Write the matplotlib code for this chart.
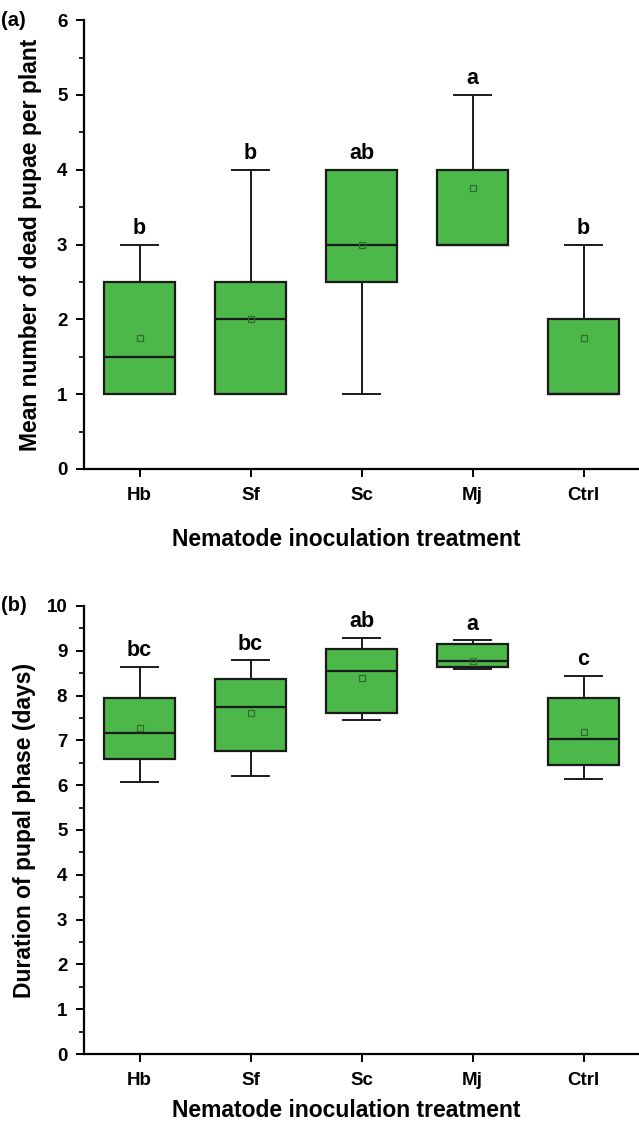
import matplotlib.pyplot as plt
from matplotlib.ticker import MultipleLocator

plt.rcParams['font.family'] = ['Liberation Sans', 'DejaVu Sans']
plt.rcParams['font.weight'] = 'bold'

#########################
# données
#########################
categories = ["Hb", "Sf", "Sc", "Mj", "Ctrl"]

# (a) nombre de pupes mortes par plante
a_whislo = [1, 1, 1, 3, 1]
a_q1 = [1, 1, 2.5, 3, 1]
a_med = [1.5, 2, 3, 3, 1]
a_q3 = [2.5, 2.5, 4, 4, 2]
a_whishi = [3, 4, 4, 5, 3]
a_mean = [1.75, 2.0, 3.0, 3.75, 1.75]
a_letters = ["b", "b", "ab", "a", "b"]

# (b) durée de la phase pupale (jours)
b_whislo = [6.07, 6.21, 7.45, 8.60, 6.14]
b_q1 = [6.58, 6.76, 7.62, 8.63, 6.45]
b_med = [7.16, 7.75, 8.55, 8.77, 7.03]
b_q3 = [7.94, 8.36, 9.03, 9.14, 7.95]
b_whishi = [8.64, 8.79, 9.29, 9.23, 8.44]
b_mean = [7.27, 7.60, 8.39, 8.77, 7.19]
b_letters = ["bc", "bc", "ab", "a", "c"]

green = "#4cb84a"


def make_stats(lo, q1, med, q3, hi, mean):
    stats = []
    for i in range(len(categories)):
        stats.append(dict(whislo=lo[i], q1=q1[i], med=med[i], q3=q3[i],
                          whishi=hi[i], mean=mean[i], fliers=[]))
    return stats


def draw_panel(ax, stats, letters, ymax, ylabel, tag):
    ax.bxp(stats, positions=range(len(categories)), widths=0.64,
           patch_artist=True, showmeans=True, showfliers=False,
           boxprops=dict(facecolor=green, edgecolor="#1a1a1a", linewidth=1.6),
           medianprops=dict(color="#1a1a1a", linewidth=1.6),
           whiskerprops=dict(color="#1a1a1a", linewidth=1.4),
           capprops=dict(color="#1a1a1a", linewidth=1.4),
           capwidths=0.33,
           meanprops=dict(marker="s", markersize=4, markerfacecolor="none",
                          markeredgecolor="#2d6e2b", markeredgewidth=0.9))
    for i, s in enumerate(stats):
        ax.annotate(letters[i], (i, s["whishi"]), xytext=(0, 4),
                    textcoords="offset points", ha="center", va="bottom",
                    fontsize=15.5, fontweight="bold")
    ax.set_xlim(-0.5, 4.5)
    ax.set_ylim(0, ymax)
    ax.set_xticks(range(len(categories)))
    ax.set_xticklabels(categories)
    ax.yaxis.set_major_locator(MultipleLocator(1))
    ax.yaxis.set_minor_locator(MultipleLocator(0.5))
    ax.tick_params(axis="both", which="major", labelsize=13.5, width=1.4,
                   length=6, direction="out")
    ax.tick_params(axis="y", which="minor", width=1.2, length=3.5)
    ax.tick_params(axis="x", pad=7)
    ax.tick_params(axis="y", pad=6)
    for side in ["top", "right"]:
        ax.spines[side].set_visible(False)
    for side in ["left", "bottom"]:
        ax.spines[side].set_linewidth(1.6)
    ax.set_ylabel(ylabel, fontsize=16.5, fontweight="bold")
    ax.set_xlabel("Nematode inoculation treatment", fontsize=16.5,
                  fontweight="bold")
    ax.xaxis.label.set_x(0.473)
    ax.text(-0.15, 1.0, tag, transform=ax.transAxes, fontsize=14.5,
            fontweight="bold", ha="left", va="center")


fig = plt.figure(figsize=(6.39, 11.22), dpi=100)
ax1 = fig.add_axes([0.1315, 0.582, 0.8685, 0.400])
ax2 = fig.add_axes([0.1315, 0.0605, 0.8685, 0.3995])

draw_panel(ax1, make_stats(a_whislo, a_q1, a_med, a_q3, a_whishi, a_mean),
           a_letters, 6, "Mean number of dead pupae per plant", "(a)")
ax1.xaxis.labelpad = 17
ax1.yaxis.labelpad = 11
draw_panel(ax2, make_stats(b_whislo, b_q1, b_med, b_q3, b_whishi, b_mean),
           b_letters, 10, "Duration of pupal phase (days)", "(b)")
ax2.xaxis.labelpad = 7
ax2.yaxis.labelpad = 8

fig.savefig("out.png", dpi=100)
